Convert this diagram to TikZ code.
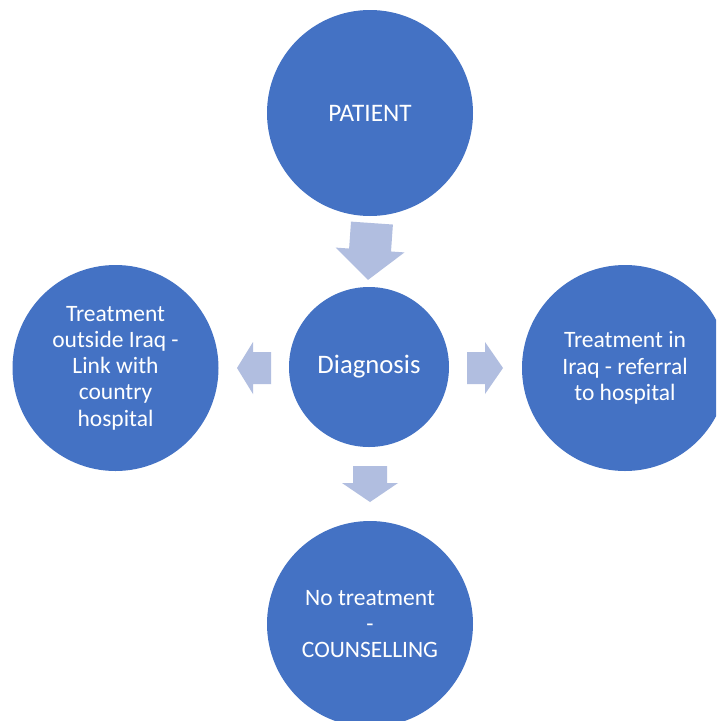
\documentclass[tikz,border=0pt]{standalone}
\usepackage{fontspec}
\setmainfont{Carlito}
\definecolor{circblue}{HTML}{4472C4}
\definecolor{arrowblue}{HTML}{B1BEE0}
\begin{document}
\begin{tikzpicture}[x=1pt,y=-1pt,
  circ/.style={circle, fill=circblue, draw=none, text=white, align=center,
    font=\fontsize{23.5}{26.3}\selectfont, inner sep=0pt},
  bigcirc/.style={circ, minimum size=206pt},
  blockarrow/.style={fill=arrowblue, draw=none}]
\fill[white] (0,0) rectangle (716,721);
\useasboundingbox (0,0) rectangle (716,721);
\begin{scope}
\clip (0,0) rectangle (716,721);
\node[bigcirc, font=\fontsize{25.2}{28}\selectfont] (patient) at (370,113) {PATIENT};
\node[circ, minimum size=160pt, font=\fontsize{26.7}{30}\selectfont] (diag) at (369,367) {Diagnosis};
\node[bigcirc] (outside) at (115.5,368) {Treatment\\outside Iraq -\\Link with\\country\\hospital};
\node[bigcirc] (inside) at (625,368) {Treatment in\\Iraq - referral\\to hospital};
\node[bigcirc] (none) at (370,624) {No treatment\\-\\COUNSELLING};
\end{scope}
% block arrows
\fill[blockarrow, rotate around={-4:(370,251)}] (349,223) -- (391,223) -- (391,250) -- (404.5,250) -- (370,280) -- (335.5,250) -- (349,250) -- cycle;
\fill[blockarrow] (271,352) -- (253,352) -- (253,342) -- (237,368) -- (253,394) -- (253,384) -- (271,384) -- cycle;
\fill[blockarrow] (467,352) -- (485,352) -- (485,342) -- (503,368) -- (485,394) -- (485,384) -- (467,384) -- cycle;
\fill[blockarrow] (353,466) -- (387,466) -- (387,483) -- (398,483) -- (370,502) -- (342,483) -- (353,483) -- cycle;
\end{tikzpicture}
\end{document}
